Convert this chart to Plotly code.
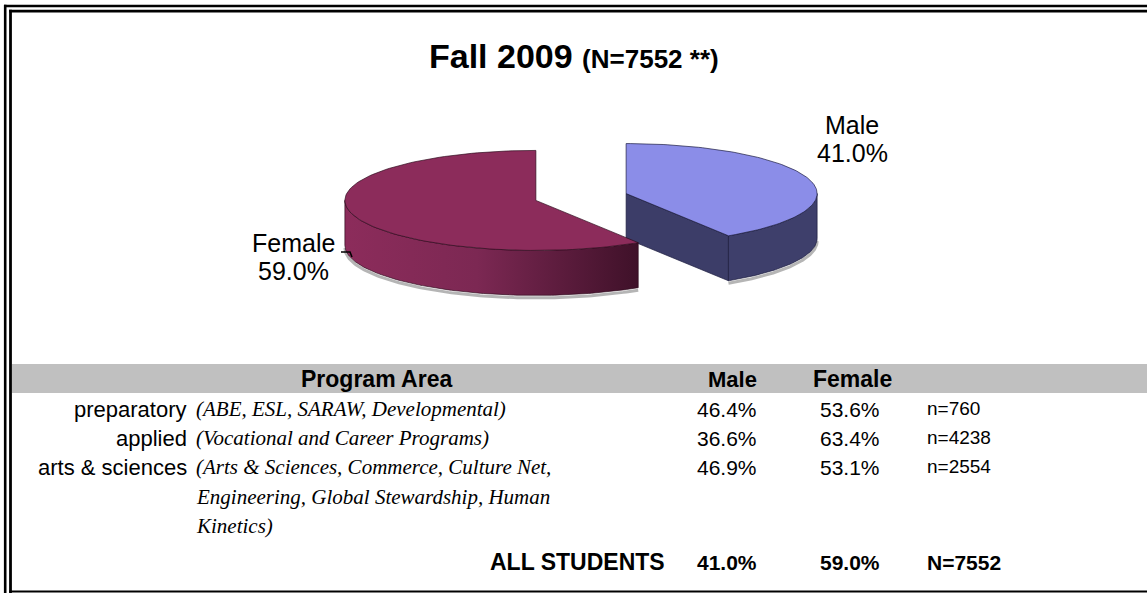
import numpy as np
import plotly.graph_objects as go

# ---------------- data ----------------
title_main = "Fall 2009"
title_sub = "(N=7552 **)"
gender_labels = ["Male", "Female"]
gender_shares = [41.0, 59.0]

table_header = ["Program Area", "Male", "Female"]
program_areas = ["preparatory", "applied", "arts & sciences"]
program_details = [
    ["(ABE, ESL, SARAW, Developmental)"],
    ["(Vocational and Career Programs)"],
    ["(Arts & Sciences, Commerce, Culture Net,",
     "Engineering, Global Stewardship, Human",
     "Kinetics)"],
]
male_pct = [46.4, 36.6, 46.9]
female_pct = [53.6, 63.4, 53.1]
program_n = [760, 4238, 2554]
total_label = "ALL STUDENTS"
total_male_pct = 41.0
total_female_pct = 59.0
total_n = 7552

# ---------------- layout / style constants ----------------
W, H = 1147, 593
PIE_CX, PIE_CY = 581, 197
RX, RY = 191, 50
DEPTH = 45
EXPLODE = 0.246
START_ANGLE = 90.0

SANS = "Arial, Liberation Sans, sans-serif"
SERIF = "Times New Roman, Liberation Serif, serif"

slice_style = {
    "Male": dict(top="#8B8DE8", side="#3E3F6B", cut="#3C3D68",
                 edge="rgba(25,25,60,0.85)", grad=None),
    "Female": dict(top="#8C2C5B", side="#7A2852", cut="#6A2246",
                   edge="rgba(45,10,28,0.85)",
                   grad=[[0, "#8C2C5B"], [0.45, "#7C2853"], [1, "#3F1129"]]),
}
label_pos = {"Male": (852, 125), "Female": (293, 243)}
LABEL_LINE = 28

fig = go.Figure()


def ell(cx, cy, th_deg):
    th = np.radians(th_deg)
    return cx + RX * np.cos(th), cy - RY * np.sin(th)


def arc(cx, cy, a0, a1, n=120):
    th = np.linspace(a0, a1, n)
    return ell(cx, cy, th)


# compute slices (clockwise from 12 o'clock)
total = sum(gender_shares)
slices = []
a = START_ANGLE
for lab, v in zip(gender_labels, gender_shares):
    sweep = 360.0 * v / total
    a0, a1 = a, a - sweep
    mid = np.radians((a0 + a1) / 2)
    cx = PIE_CX + EXPLODE * RX * np.cos(mid)
    cy = PIE_CY - EXPLODE * RY * np.sin(mid)
    slices.append(dict(label=lab, value=v, a0=a0, a1=a1, cx=cx, cy=cy))
    a = a1

# draw back-to-front
slices.sort(key=lambda s: s["cy"])

# shadow under the pie
for s in slices:
    lo, hi = max(s["a1"], -180.0), min(s["a0"], 0.0)
    if hi > lo:
        sx, sy = arc(s["cx"], s["cy"] + DEPTH + 2.5, lo, hi)
        fig.add_trace(go.Scatter(x=sx, y=sy, mode="lines",
                                 line=dict(color="rgba(120,120,120,0.55)", width=3),
                                 hoverinfo="skip"))

for s in slices:
    st = slice_style[s["label"]]
    cx, cy = s["cx"], s["cy"]
    # radial cut faces that face the viewer
    for ang, nrm in ((s["a0"], s["a0"] + 90), (s["a1"], s["a1"] - 90)):
        if np.sin(np.radians(nrm)) < -1e-6:
            px, py = ell(cx, cy, ang)
            fig.add_trace(go.Scatter(
                x=[cx, px, px, cx, cx], y=[cy, py, py + DEPTH, cy + DEPTH, cy],
                mode="lines", fill="toself", fillcolor=st["cut"],
                line=dict(color=st["edge"], width=0.8), hoverinfo="skip"))
    # outer side (front half only)
    for k in (0, -360):
        lo, hi = max(s["a1"], -180.0 + k), min(s["a0"], 0.0 + k)
        if hi > lo:
            tx, ty = arc(cx, cy, hi, lo)
            bx, by = arc(cx, cy + DEPTH, lo, hi)
            xs = np.concatenate([tx, bx, tx[:1]])
            ys = np.concatenate([ty, by, ty[:1]])
            kw = dict(fillcolor=st["side"])
            if st["grad"]:
                kw = dict(fillgradient=dict(type="horizontal", colorscale=st["grad"]))
            fig.add_trace(go.Scatter(x=xs, y=ys, mode="lines", fill="toself",
                                     line=dict(color=st["edge"], width=0.8),
                                     hoverinfo="skip", **kw))
    # top face
    ax, ay = arc(cx, cy, s["a0"], s["a1"])
    fig.add_trace(go.Scatter(x=np.concatenate([[cx], ax, [cx]]),
                             y=np.concatenate([[cy], ay, [cy]]),
                             mode="lines", fill="toself", fillcolor=st["top"],
                             line=dict(color=st["edge"], width=0.8),
                             hoverinfo="skip"))

annotations = []


def txt(x, y, text, size, xanchor="center", family=SANS, bold=False, italic=False):
    if bold:
        text = f"<b>{text}</b>"
    if italic:
        text = f"<i>{text}</i>"
    annotations.append(dict(x=x, y=y, xref="x", yref="y", text=text, showarrow=False,
                            xanchor=xanchor, yanchor="middle",
                            font=dict(family=family, size=size, color="black")))


# title
annotations.append(dict(x=574, y=56, xref="x", yref="y", showarrow=False,
                        xanchor="center", yanchor="middle",
                        text=f"<b>{title_main} <span style='font-size:26px'>{title_sub}</span></b>",
                        font=dict(family=SANS, size=34, color="black")))

# pie labels
for lab, v in zip(gender_labels, gender_shares):
    lx, ly = label_pos[lab]
    txt(lx, ly, lab, 25)
    txt(lx, ly + LABEL_LINE, f"{v:.1f}%", 25)

# ---------------- table ----------------
HEAD_Y = 379
ROW0 = 409
ROW_H = 29.2
X_NAME_R = 189
X_DETAIL = 194
X_MALE = 727
X_FEMALE = 850
X_N = 925
TS = 21

txt(376, HEAD_Y, table_header[0], 23, bold=True)
txt(732, HEAD_Y, table_header[1], 22, bold=True)
txt(852, HEAD_Y, table_header[2], 23, bold=True)

row = 0
for name, det, m, f, n in zip(program_areas, program_details, male_pct, female_pct, program_n):
    y = ROW0 + row * ROW_H
    txt(X_NAME_R, y, name, 22, xanchor="right")
    for j, line in enumerate(det):
        txt(X_DETAIL, ROW0 + (row + j) * ROW_H, line, 21, xanchor="left", family=SERIF, italic=True)
    txt(X_MALE, y, f"{m:.1f}%", TS)
    txt(X_FEMALE, y, f"{f:.1f}%", TS)
    txt(X_N, y - 1, f"n={n}", 19, xanchor="left")
    row += len(det)

TOT_Y = 562
txt(667, TOT_Y, total_label, 23, xanchor="right", bold=True)
txt(X_MALE, TOT_Y, f"{total_male_pct:.1f}%", TS, bold=True)
txt(X_FEMALE, TOT_Y, f"{total_female_pct:.1f}%", TS, bold=True)
txt(X_N, TOT_Y, f"N={total_n}", TS, xanchor="left", bold=True)

# ---------------- frame / decorations ----------------
shapes = [
    dict(type="rect", xref="x", yref="y", x0=12, x1=W, y0=364, y1=393,
         fillcolor="#C0C0C0", line=dict(width=0), layer="below"),
    dict(type="line", xref="x", yref="y", x0=4, x1=W, y0=6, y1=6,
         line=dict(color="black", width=2.6)),
    dict(type="line", xref="x", yref="y", x0=9, x1=W, y0=11.2, y1=11.2,
         line=dict(color="black", width=2.8)),
    dict(type="line", xref="x", yref="y", x0=5.2, x1=5.2, y0=4.7, y1=H,
         line=dict(color="black", width=2.6)),
    dict(type="line", xref="x", yref="y", x0=10.5, x1=10.5, y0=9.8, y1=H,
         line=dict(color="black", width=2.8)),
    dict(type="line", xref="x", yref="y", x0=9, x1=W, y0=591.5, y1=591.5,
         line=dict(color="black", width=2)),
    # Female label leader
    dict(type="path", xref="x", yref="y", path="M 341 252 L 350 252 L 352 257",
         line=dict(color="black", width=1.5)),
]

fig.update_layout(
    width=W, height=H,
    margin=dict(l=0, r=0, t=0, b=0),
    paper_bgcolor="white", plot_bgcolor="white",
    showlegend=False,
    xaxis=dict(range=[0, W], visible=False, fixedrange=True),
    yaxis=dict(range=[H, 0], visible=False, fixedrange=True),
    annotations=annotations,
    shapes=shapes,
)

fig.write_html("out.html", config={"displayModeBar": False},
               post_script="document.body.style.margin='0';")
